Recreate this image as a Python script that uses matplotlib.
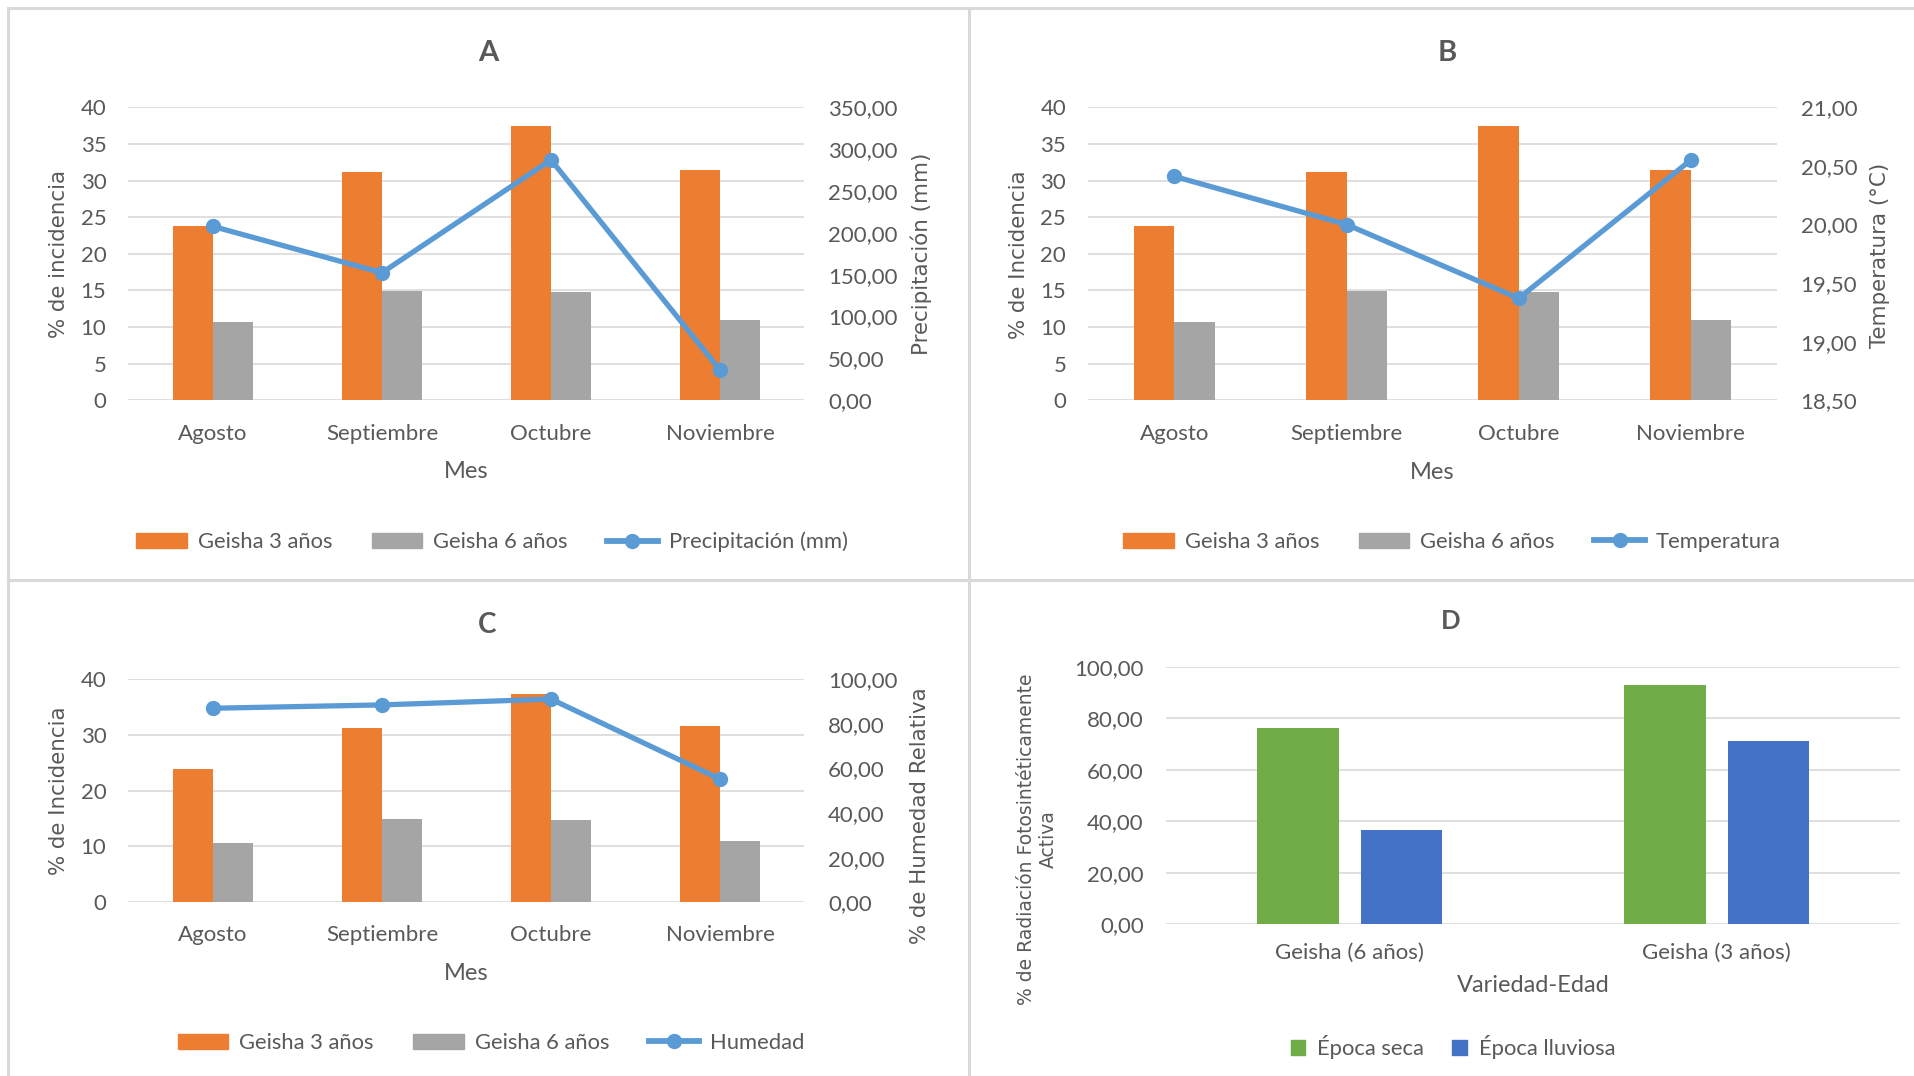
import matplotlib
matplotlib.use("Agg")
import matplotlib.pyplot as plt
from matplotlib.ticker import FuncFormatter, MultipleLocator
from matplotlib.patches import Patch
from matplotlib.lines import Line2D
import numpy as np

# ---- data -------------------------------------------------------------
months = ["Agosto", "Septiembre", "Octubre", "Noviembre"]
geisha_3 = [23.8, 31.2, 37.4, 31.5]
geisha_6 = [10.7, 14.9, 14.8, 10.9]
precipitacion = [207.7, 152.4, 287.2, 36.2]
temperatura = [20.41, 20.00, 19.37, 20.55]
humedad = [86.9, 88.4, 91.0, 55.2]

variedades = ["Geisha (6 años)", "Geisha (3 años)"]
epoca_seca = [76.4, 92.9]
epoca_lluviosa = [36.7, 71.2]

# ---- style ------------------------------------------------------------
ORANGE = "#ED7D31"
GRAY = "#A5A5A5"
LINE_BLUE = "#5B9BD5"
GREEN = "#70AD47"
BLUE = "#4472C4"
TEXT = "#595959"
GRID = "#D9D9D9"
LABEL_FONT = ["DejaVu Sans"]
TICK_SIZE = 16
LEGEND_SIZE = 15.8
YLABEL_SIZE = 15.4

plt.rcParams["font.family"] = ["Lato", "DejaVu Sans"]
plt.rcParams["text.color"] = TEXT

W, H = 1915, 1076
fig = plt.figure(figsize=(W / 100, H / 100), dpi=100)


def fx(x):
    return x / W


def fy(y):
    return 1 - y / H


def rect(left, top, right, bottom):
    return [fx(left), fy(bottom), (right - left) / W, (bottom - top) / H]


comma2 = FuncFormatter(lambda v, p: f"{v:.2f}".replace(".", ","))


def clean(ax):
    for s in ax.spines.values():
        s.set_visible(False)
    ax.tick_params(length=0, colors=TEXT, labelsize=TICK_SIZE)


def incidence_panel(box, ystep, line_vals, rlim, rstep, rlabel, line_name,
                    title, title_xy, ylabel, ylab_xy, rlab_xy, xlab_y,
                    tick_pad, legend_xy, title_size):
    ax = fig.add_axes(rect(*box))
    x = np.arange(len(months))
    w = 0.236
    ax.bar(x - w / 2, geisha_3, w, color=ORANGE, zorder=2, label="Geisha 3 años")
    ax.bar(x + w / 2, geisha_6, w, color=GRAY, zorder=2, label="Geisha 6 años")
    ax.set_xlim(-0.5, len(months) - 0.5)
    ax.set_ylim(0, 40)
    ax.yaxis.set_major_locator(MultipleLocator(ystep))
    ax.grid(axis="y", color=GRID, lw=1.2, zorder=0)
    ax.set_axisbelow(True)
    ax.set_xticks(x)
    ax.set_xticklabels(months)
    clean(ax)
    ax.tick_params(axis="y", pad=16)
    ax.tick_params(axis="x", pad=tick_pad)

    ax2 = ax.twinx()
    ax2.plot(x, line_vals, color=LINE_BLUE, lw=3.8, marker="o", ms=10,
             zorder=3, label=line_name)
    ax2.set_ylim(*rlim)
    ax2.yaxis.set_major_locator(MultipleLocator(rstep))
    ax2.yaxis.set_major_formatter(comma2)
    clean(ax2)
    ax2.tick_params(axis="y", pad=17)

    ax.set_ylabel(ylabel, family=LABEL_FONT, fontsize=YLABEL_SIZE, color=TEXT,
                  rotation=90, ha="center", va="center", rotation_mode="anchor")
    ax.yaxis.set_label_coords(fx(ylab_xy[0]), fy(ylab_xy[1]), transform=fig.transFigure)
    ax2.set_ylabel(rlabel, family=LABEL_FONT, fontsize=YLABEL_SIZE, color=TEXT,
                   rotation=90, ha="center", va="center", rotation_mode="anchor")
    ax2.yaxis.set_label_coords(fx(rlab_xy[0]), fy(rlab_xy[1]), transform=fig.transFigure)
    ax.set_xlabel("Mes", fontsize=17, color=TEXT, va="center")
    ax.xaxis.set_label_coords(fx((box[0] + box[2]) / 2), fy(xlab_y), transform=fig.transFigure)

    fig.text(fx(title_xy[0]), fy(title_xy[1]), title, fontsize=title_size,
             fontweight="bold", color=TEXT, ha="center", va="center")

    handles = [Patch(color=ORANGE, label="Geisha 3 años"),
               Patch(color=GRAY, label="Geisha 6 años"),
               Line2D([], [], color=LINE_BLUE, lw=4.2, marker="o", ms=10,
                      label=line_name)]
    fig.legend(handles=handles, loc="center", ncol=3, frameon=False,
               bbox_to_anchor=(fx(legend_xy[0]), fy(legend_xy[1])),
               fontsize=LEGEND_SIZE, handlelength=2.3, handleheight=0.7,
               handletextpad=0.5, columnspacing=1.8, labelcolor=TEXT)
    return ax, ax2


# Panel A: precipitation
incidence_panel((128.5, 107.3, 804.5, 400.3), 5, precipitacion, (0, 350), 50,
                "Precipitación (mm)", "Precipitación (mm)", "A", (488, 53),
                "% de incidencia", (58.6, 253.5), (921, 253.5), 471, 17,
                (492, 542), 21)

# Panel B: temperature
incidence_panel((1088.4, 107.3, 1776.9, 400.3), 5, temperatura, (18.5, 21.0), 0.5,
                "Temperatura (°C)", "Temperatura", "B", (1447, 53),
                "% de Incidencia", (1018.6, 255), (1879.6, 255), 472, 17,
                (1452, 542), 21)

# Panel C: relative humidity
incidence_panel((128.5, 679, 804.5, 902.3), 10, humedad, (0, 100), 20,
                "% de Humedad Relativa", "Humedad", "C", (487, 625),
                "% de Incidencia", (58.7, 790.6), (919.6, 815.7), 973, 16.5,
                (491, 1043), 20)

# Panel D: photosynthetically active radiation
axd = fig.add_axes(rect(1166, 667, 1900.5, 924.3))
xd = np.arange(len(variedades))
bw = 0.222
axd.bar(xd - 0.141, epoca_seca, bw, color=GREEN, zorder=2, label="Época seca")
axd.bar(xd + 0.141, epoca_lluviosa, bw, color=BLUE, zorder=2, label="Época lluviosa")
axd.set_xlim(-0.5, len(variedades) - 0.5)
axd.set_ylim(0, 100)
axd.yaxis.set_major_locator(MultipleLocator(20))
axd.yaxis.set_major_formatter(comma2)
axd.grid(axis="y", color=GRID, lw=1.2, zorder=0)
axd.set_axisbelow(True)
axd.set_xticks(xd)
axd.set_xticklabels(variedades)
clean(axd)
axd.tick_params(axis="y", pad=16)
axd.tick_params(axis="x", pad=13.5)
axd.set_xlabel("Variedad-Edad", fontsize=17, color=TEXT, va="center")
axd.xaxis.set_label_coords(fx(1533), fy(986), transform=fig.transFigure)
axd.set_ylabel("% de Radiación Fotosintéticamente\nActiva", family=LABEL_FONT,
               fontsize=13.5, color=TEXT, rotation=90, ha="center", va="center",
               rotation_mode="anchor", multialignment="center", linespacing=1.15)
axd.yaxis.set_label_coords(fx(1037.5), fy(839), transform=fig.transFigure)
fig.text(fx(1451), fy(621), "D", fontsize=18.5, fontweight="bold", color=TEXT,
         ha="center", va="center")
fig.legend(handles=[Patch(color=GREEN, label="Época seca"),
                    Patch(color=BLUE, label="Época lluviosa")],
           loc="center", ncol=2, frameon=False,
           bbox_to_anchor=(fx(1453), fy(1047)), fontsize=LEGEND_SIZE,
           handlelength=0.65, handleheight=0.65, handletextpad=0.55,
           columnspacing=1.3, labelcolor=TEXT)

# ---- panel frames -----------------------------------------------------
frame = dict(color=GRID, lw=2.2, transform=fig.transFigure)
fig.add_artist(Line2D([fx(8), fx(8)], [fy(8), 0], **frame))
fig.add_artist(Line2D([fx(8), 1], [fy(8), fy(8)], **frame))
fig.add_artist(Line2D([fx(968.5), fx(968.5)], [fy(8), 0], **frame))
fig.add_artist(Line2D([fx(8), 1], [fy(580), fy(580)], **frame))

fig.savefig("out.png", dpi=100, facecolor="white")
